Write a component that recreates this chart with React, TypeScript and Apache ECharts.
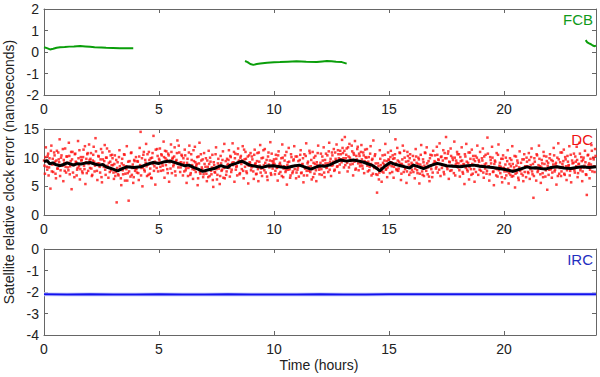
import React, { useEffect, useRef } from "react";
import * as echarts from "echarts";

// ---------- data ----------
const hourTicks = [0, 5, 10, 15, 20];
const xMax = 24;

// FCB (green) segments: [hour, ns]; null breaks the line
const fcbData: (number[] | null)[] = [
  [0, 0.22], [0.13, 0.18], [0.26, 0.12], [0.4, 0.15], [0.55, 0.2], [0.7, 0.22], [0.9, 0.23],
  [1.1, 0.25], [1.3, 0.26], [1.57, 0.28], [1.8, 0.26], [2.0, 0.24], [2.2, 0.22], [2.5, 0.21],
  [2.7, 0.2], [3.0, 0.19], [3.3, 0.18], [3.6, 0.17], [3.88, 0.17],
  null,
  [8.74, -0.42], [8.85, -0.47], [8.97, -0.56], [9.1, -0.6], [9.25, -0.56], [9.4, -0.53],
  [9.7, -0.5], [10.0, -0.48], [10.26, -0.47], [10.6, -0.45], [10.98, -0.43], [11.4, -0.45],
  [11.86, -0.47], [12.1, -0.44], [12.3, -0.42], [12.5, -0.43], [12.7, -0.45], [12.95, -0.47], [13.16, -0.54],
  null,
  [23.55, 0.55], [23.62, 0.45], [23.7, 0.4], [23.78, 0.36], [23.86, 0.3], [23.94, 0.27], [24, 0.3],
];

// DC (red) scatter samples, one every dcStep hours (second set offset by half a step)
const dcStep = 0.04;
const dcValues = [
  9.5,7.2,11.8,8.4,10.3,6.9,9.9,4.6,12.1,8.8,7.5,10.9,9.3,6.4,11.2,8.1,9.7,13.2,7.8,10.4,8.6,5.9,9.1,11.6,7.4,
  10.2,8.3,12.6,7.1,9.4,4.5,11.0,8.7,6.6,10.7,9.2,7.9,12.9,8.5,6.2,10.1,9.6,7.3,11.4,8.0,5.4,9.8,10.6,7.7,12.3,
  8.2,10.8,6.8,9.5,11.9,7.6,13.4,8.9,6.1,10.3,9.0,7.4,11.5,5.7,9.7,8.4,12.2,7.0,10.0,8.6,6.5,11.1,9.3,7.8,10.5,
  8.7,6.3,10.4,7.5,2.2,9.2,6.9,11.3,8.0,5.2,9.8,7.1,10.6,6.0,8.5,12.0,7.3,2.5,9.4,6.7,10.9,8.2,5.6,9.6,7.7,
  10.1,7.4,9.3,6.1,11.7,14.5,8.2,5.0,10.5,7.9,9.6,12.4,6.8,8.8,11.0,7.2,9.9,6.4,10.8,13.8,8.5,5.3,9.1,11.5,7.6,
  9.8,11.6,7.7,10.4,8.6,12.8,6.5,9.9,11.1,8.0,10.7,5.8,9.4,12.3,7.3,10.0,8.8,11.8,6.9,9.6,13.0,8.3,10.9,7.5,9.2,
  10.3,6.9,9.1,11.4,7.8,5.6,9.8,8.2,12.1,7.0,10.6,8.7,6.3,9.4,11.9,7.5,8.9,5.2,10.2,12.6,7.2,9.5,8.0,6.6,10.8,
  7.6,9.9,5.9,8.4,11.2,6.8,9.3,7.1,10.5,4.9,8.7,7.4,11.8,6.2,9.0,8.1,5.4,10.3,7.7,9.6,6.5,12.4,8.3,7.0,9.8,
  8.9,11.3,6.7,10.1,7.9,12.5,9.2,5.8,10.7,8.4,6.9,11.6,9.5,7.3,10.3,8.0,12.0,6.4,9.7,11.0,7.6,8.8,5.5,10.4,9.1,
  7.8,10.2,8.5,6.3,11.4,9.0,7.2,10.8,5.9,9.3,12.2,8.1,6.8,10.0,8.7,11.5,7.4,9.6,6.1,10.9,8.3,12.7,7.0,9.4,8.9,
  9.7,7.1,10.5,8.2,6.0,11.1,8.8,7.5,9.9,12.3,6.6,8.5,10.4,7.8,5.3,9.2,11.7,8.0,6.9,10.1,7.3,9.5,12.0,8.6,6.4,
  10.2,8.3,6.7,9.6,11.3,7.4,8.9,5.7,10.6,8.1,12.5,6.9,9.3,7.7,10.8,8.5,6.2,11.0,9.1,7.2,10.3,5.9,8.7,12.1,7.9,
  8.4,10.7,7.0,9.5,11.8,6.6,9.0,8.2,10.4,7.5,12.6,9.3,6.8,10.9,8.7,11.5,7.9,9.8,12.3,8.5,10.6,7.4,11.2,9.7,13.1,
  10.8,8.3,13.6,9.9,11.6,7.6,10.2,12.4,8.8,9.4,11.1,6.9,10.5,12.9,8.1,9.7,11.9,7.8,10.3,9.0,12.2,8.6,10.9,7.3,11.4,
  9.2,11.5,7.6,10.1,8.4,12.0,6.9,9.8,13.0,8.2,10.6,7.1,3.9,9.0,6.2,11.3,8.7,5.8,10.4,7.4,9.5,12.4,8.0,6.6,10.9,
  9.6,7.3,11.2,8.5,10.4,6.5,9.9,13.2,8.0,11.7,7.7,9.3,10.8,6.1,8.9,12.1,7.5,10.0,8.3,5.6,11.0,9.4,7.0,10.6,8.6,
  7.9,10.3,8.6,6.4,11.5,9.1,7.3,10.0,5.5,8.8,12.2,7.6,9.7,6.8,10.9,8.2,11.8,7.1,9.4,5.9,10.5,8.0,6.6,11.2,9.0,
  10.4,8.1,11.9,7.4,9.6,12.5,6.8,10.2,8.7,11.3,7.1,9.9,13.6,8.4,10.7,6.3,9.2,11.6,7.8,10.0,8.5,12.8,6.9,9.5,11.0,
  8.3,10.6,6.7,9.4,11.8,7.5,8.9,5.4,10.2,12.4,7.9,9.1,6.2,10.9,8.0,11.4,7.2,9.7,5.8,10.3,8.6,12.1,7.0,9.3,11.0,
  7.7,9.9,11.6,6.5,8.8,10.5,7.2,13.5,8.4,6.0,10.1,9.0,11.9,7.5,5.2,9.5,8.1,10.8,6.7,12.3,8.6,7.3,9.8,5.7,10.4,
  8.2,6.4,10.0,7.6,11.3,5.5,8.9,7.0,9.6,12.0,6.8,8.3,4.8,10.2,7.4,9.1,6.1,11.1,8.0,7.2,9.7,5.9,10.6,8.5,6.6,
  9.3,7.5,10.8,6.3,8.7,11.6,7.1,3.0,9.9,8.2,6.0,10.4,7.8,12.1,8.5,5.6,9.6,7.3,11.0,8.9,6.7,10.2,4.4,9.1,7.9,
  10.6,8.0,6.5,9.4,11.7,7.6,8.8,5.3,10.0,12.5,7.2,9.2,6.8,10.9,8.4,11.4,7.0,9.7,6.1,10.3,8.6,12.0,7.7,5.7,9.5,
  8.1,10.7,7.4,9.3,11.9,6.6,8.9,12.6,7.8,10.1,5.9,9.6,8.3,11.2,7.1,3.5,10.4,8.7,6.4,9.8,12.2,7.6,10.0,8.5,11.5,
];
const dcValues2 = [
  8.6,10.1,9.4,7.9,10.7,8.3,9.0,11.2,7.6,9.8,8.9,10.4,7.2,9.5,8.1,10.9,9.2,6.8,10.0,8.7,11.5,9.6,7.7,8.4,10.2,
  9.1,7.8,10.3,8.5,11.0,9.7,7.4,8.8,10.6,9.3,6.9,8.2,9.9,11.3,8.0,9.5,7.6,10.1,8.6,12.0,9.2,7.3,10.8,8.9,9.6,
  9.8,8.1,7.0,10.5,9.3,8.6,11.1,7.7,9.0,10.2,8.4,9.7,6.6,10.9,8.8,9.4,7.9,10.0,11.6,8.3,9.1,7.5,10.4,8.7,9.9,
  7.4,8.9,6.8,9.6,8.2,7.1,10.1,8.5,6.4,9.0,7.8,8.7,10.5,7.2,8.0,6.0,9.3,7.6,8.4,10.8,7.0,8.8,6.6,9.4,8.1,
  8.0,9.4,7.3,10.2,8.7,6.9,9.9,8.3,11.0,7.6,9.1,8.5,10.6,7.0,9.6,8.1,6.5,10.0,8.9,7.7,9.3,11.4,8.2,10.3,9.0,
  9.5,8.4,10.6,9.0,7.8,10.1,11.2,8.7,9.6,7.3,10.4,9.2,8.1,11.0,9.8,8.5,10.2,7.6,9.4,10.8,8.9,12.1,9.1,8.3,10.5,
  8.8,9.9,7.6,10.4,8.2,9.1,6.8,10.9,8.5,7.3,9.6,8.0,11.3,7.9,9.2,8.6,10.1,6.4,9.0,7.5,10.6,8.3,9.7,7.1,8.9,
  8.4,7.2,9.5,6.6,8.9,10.0,7.7,8.3,6.1,9.2,7.5,10.6,8.0,7.0,9.8,8.6,6.8,9.0,7.9,11.1,8.2,6.4,9.4,7.6,8.7,
  9.6,8.2,10.3,7.5,9.1,8.7,11.0,9.9,7.9,8.5,10.6,9.3,7.1,10.0,8.9,9.5,7.7,11.4,8.4,9.8,7.3,10.2,8.6,9.2,10.8,
  8.3,9.7,7.6,10.5,8.9,7.1,9.4,8.0,10.9,8.6,7.4,9.9,8.2,11.3,7.8,9.1,8.5,6.7,10.2,8.8,9.5,7.3,10.7,8.1,9.3,
  8.9,7.7,9.8,8.3,10.4,7.2,9.1,8.6,6.8,10.0,8.1,9.5,7.5,11.0,8.7,7.9,9.3,6.5,10.6,8.4,7.6,9.7,8.0,10.2,7.4,
  7.9,9.4,8.6,10.5,7.3,8.8,9.9,6.9,8.2,10.3,7.7,9.0,8.4,11.2,7.5,9.6,8.0,6.6,10.0,8.9,7.8,9.2,10.8,8.3,7.1,
  9.1,8.0,10.2,8.7,7.4,9.6,10.7,8.3,9.0,11.1,7.9,9.8,8.6,10.4,9.3,7.7,10.9,9.5,8.4,11.3,9.9,8.8,10.6,9.2,11.7,
  9.9,11.2,8.7,10.5,9.1,11.8,8.3,10.0,9.6,12.1,8.9,10.8,9.3,7.9,10.3,11.5,9.0,10.7,8.5,11.0,9.7,8.1,10.4,9.4,10.1,
  10.0,8.6,9.3,7.8,10.7,8.9,9.6,7.2,8.4,10.3,9.0,8.1,7.0,8.5,7.4,9.8,8.2,7.6,9.1,8.8,10.5,7.9,9.4,8.3,9.7,
  8.7,10.1,9.2,7.5,9.8,8.4,10.6,9.0,7.8,9.5,8.1,10.9,8.9,7.2,9.7,8.6,11.2,8.0,9.3,7.6,10.3,8.8,9.9,7.4,9.1,
  8.8,7.5,9.6,8.1,10.2,7.8,8.9,9.7,7.2,10.5,8.4,7.0,9.2,8.6,10.8,7.7,9.0,8.3,6.7,9.9,8.5,10.4,7.4,8.9,9.4,
  9.2,8.4,10.5,9.7,7.9,8.9,10.1,8.2,9.5,7.5,10.8,8.7,9.9,8.0,11.1,9.3,7.7,10.3,8.6,9.6,7.3,10.0,8.8,9.1,10.6,
  9.0,7.8,10.1,8.6,9.5,7.2,8.8,10.6,8.2,9.3,7.6,10.9,8.4,9.8,7.0,8.9,10.3,8.0,9.4,7.5,10.0,8.7,9.6,7.9,8.5,
  8.6,9.5,7.4,10.2,8.1,9.0,7.7,10.7,8.5,7.1,9.6,8.3,10.0,7.6,8.9,9.3,6.9,8.0,10.5,7.8,9.1,8.4,6.6,9.8,8.2,
  7.6,8.8,6.9,9.4,8.1,7.3,9.9,8.5,6.7,8.9,7.8,10.3,7.2,8.6,9.5,6.5,8.3,7.7,9.1,8.0,6.9,9.7,7.5,8.4,10.0,
  8.5,7.3,9.6,8.0,10.1,7.6,8.9,6.8,9.3,8.2,10.6,7.5,8.7,9.8,7.1,8.4,9.0,6.6,10.3,8.1,7.8,9.4,8.6,7.0,9.9,
  8.0,9.6,7.4,8.8,10.4,7.9,9.1,8.4,6.8,9.7,8.2,10.9,7.6,8.9,9.4,7.2,10.1,8.5,7.8,9.3,8.7,6.9,10.5,8.1,9.0,
  9.1,7.8,10.2,8.5,9.6,7.3,8.9,10.7,8.2,9.4,7.6,10.0,8.6,9.2,7.0,8.3,10.5,9.0,7.9,8.8,11.2,8.4,9.7,7.5,10.3,
];

// DC smoothed (black) [hour, ns]
const dcMean = [
  [0, 9.3], [0.13, 9.5], [0.26, 8.9], [0.38, 9.1], [0.5, 8.8], [0.7, 8.6], [0.85, 8.8], [1.0, 9.1],
  [1.15, 8.9], [1.28, 8.7], [1.45, 8.95], [1.6, 8.9], [1.8, 9.05], [2.0, 9.15], [2.2, 8.9], [2.4, 8.7],
  [2.55, 8.8], [2.7, 8.4], [2.85, 8.2], [3.0, 8.0], [3.2, 7.7], [3.4, 8.1], [3.6, 8.4], [3.9, 8.3],
  [4.2, 8.4], [4.45, 8.8], [4.75, 9.15], [5.0, 9.0], [5.25, 9.3], [5.5, 9.4], [5.8, 9.0], [6.1, 8.6],
  [6.3, 8.7], [6.5, 8.3], [6.7, 8.0], [6.9, 7.6], [7.15, 7.9], [7.4, 8.1], [7.55, 8.4], [7.7, 8.6],
  [7.85, 8.4], [8.0, 8.3], [8.1, 8.7], [8.35, 9.0], [8.6, 9.4], [8.8, 9.0], [8.95, 8.7], [9.2, 8.5],
  [9.5, 8.3], [9.7, 8.55], [9.97, 8.6], [10.25, 8.4], [10.55, 8.25], [10.8, 8.5], [11.1, 8.7], [11.35, 8.35],
  [11.6, 8.0], [11.8, 8.3], [12.0, 8.6], [12.2, 8.5], [12.4, 8.7], [12.65, 9.2], [12.9, 9.6], [13.15, 9.4],
  [13.45, 9.6], [13.7, 9.4], [13.9, 9.2], [14.1, 8.9], [14.3, 8.6], [14.45, 8.2], [14.6, 7.7], [14.85, 8.6],
  [15.05, 9.15], [15.3, 8.8], [15.5, 8.6], [15.7, 8.4], [15.9, 8.2], [16.06, 8.7], [16.3, 8.4], [16.5, 8.1],
  [16.8, 8.6], [17.1, 9.0], [17.3, 8.8], [17.5, 8.6], [17.8, 8.5], [18.1, 8.4], [18.4, 8.6], [18.7, 8.7],
  [18.95, 8.5], [19.2, 8.4], [19.5, 8.3], [19.8, 8.1], [20.1, 7.9], [20.4, 7.6], [20.7, 8.0], [21.0, 8.4],
  [21.2, 8.2], [21.4, 8.25], [21.6, 8.1], [21.8, 8.0], [22.05, 8.3], [22.3, 8.4], [22.6, 8.2], [22.9, 8.1],
  [23.15, 8.3], [23.4, 8.4], [23.7, 8.3], [24, 8.4],
];

// IRC (blue), one value per hour
const ircValues = [
  -2.11, -2.12, -2.11, -2.12, -2.12, -2.11, -2.12, -2.12, -2.11, -2.12, -2.12, -2.12, -2.11,
  -2.12, -2.12, -2.11, -2.11, -2.11, -2.11, -2.10, -2.11, -2.10, -2.11, -2.11, -2.11,
];

const panelLabels = ["FCB", "DC", "IRC"];
const panelColors = ["#109a1a", "#ee1111", "#1f2fc0"];
const yRanges = [
  { min: -2, max: 2, interval: 1 },
  { min: 0, max: 15, interval: 5 },
  { min: -4, max: 0, interval: 1 },
];

export default function App() {
  const ref = useRef<HTMLDivElement>(null);
  useEffect(() => {
    document.body.style.margin = "0";
    const chart = echarts.init(ref.current!, null, { renderer: "svg" });
    const font = "Liberation Sans, Arial, Helvetica, sans-serif";
    const tops = [9, 129, 249];
    const grids = tops.map((t) => ({ left: 44, right: 4, top: t, height: 86 }));
    const axisLine = { show: true, onZero: false, lineStyle: { color: "#666", width: 1 } };
    const tick = { show: true, inside: true, length: 4, lineStyle: { color: "#666" } };
    const xAxes: any[] = [];
    const yAxes: any[] = [];
    grids.forEach((_, i) => {
      xAxes.push({
        type: "value", gridIndex: i, min: 0, max: xMax, interval: 5, position: "bottom",
        axisLine, axisTick: tick, splitLine: { show: false },
        axisLabel: { color: "#222", fontSize: 14, fontFamily: font, margin: 7, showMaxLabel: false,
          formatter: (v: number) => (hourTicks.includes(v) ? String(v) : "") },
      });
      xAxes.push({
        type: "value", gridIndex: i, min: 0, max: xMax, interval: 5, position: "top",
        axisLine, axisTick: tick, splitLine: { show: false }, axisLabel: { show: false },
      });
      yAxes.push({
        type: "value", gridIndex: i, ...yRanges[i], position: "left",
        axisLine, axisTick: tick, splitLine: { show: false },
        axisLabel: { color: "#222", fontSize: 14, fontFamily: font, margin: 5 },
      });
      yAxes.push({
        type: "value", gridIndex: i, ...yRanges[i], position: "right",
        axisLine, axisTick: tick, splitLine: { show: false }, axisLabel: { show: false },
      });
    });
    const dcPoints = dcValues.map((v, i) => [+(i * dcStep).toFixed(2), v]);
    const dcPoints2 = dcValues2.map((v, i) => [+(i * dcStep + dcStep / 2).toFixed(2), v]);
    const ircPoints = ircValues.map((v, i) => [i, v]);
    chart.setOption({
      animation: false,
      grid: grids,
      xAxis: xAxes,
      yAxis: yAxes,
      series: [
        {
          type: "line", xAxisIndex: 0, yAxisIndex: 0, data: fcbData.map((d) => (d ? d : [null, null])),
          showSymbol: false, connectNulls: false, lineStyle: { color: "#0a9e0a", width: 2 },
        },
        {
          type: "scatter", xAxisIndex: 2, yAxisIndex: 2, data: dcPoints, symbol: "rect",
          symbolSize: 2.5, itemStyle: { color: "#ff1010" },
        },
        {
          type: "scatter", xAxisIndex: 2, yAxisIndex: 2, data: dcPoints2, symbol: "rect",
          symbolSize: 2.5, itemStyle: { color: "#ff1010" },
        },
        {
          type: "line", xAxisIndex: 2, yAxisIndex: 2, data: dcMean, showSymbol: false,
          lineStyle: { color: "#000", width: 3 },
        },
        {
          type: "line", xAxisIndex: 4, yAxisIndex: 4, data: ircPoints, showSymbol: false,
          lineStyle: { color: "#d2d6fb", width: 4 },
        },
        {
          type: "line", xAxisIndex: 4, yAxisIndex: 4, data: ircPoints, showSymbol: false,
          lineStyle: { color: "#1212ee", width: 2 },
        },
      ],
      graphic: [
        ...panelLabels.map((t, i) => ({
          type: "text", right: 7, top: tops[i] + 3,
          style: { text: t, fill: panelColors[i], fontSize: 15, fontFamily: font },
        })),
        {
          type: "text", x: 9, y: 172, rotation: Math.PI / 2,
          style: { text: "Satellite relative clock error (nanoseconds)", fill: "#222", fontSize: 14,
            fontFamily: font, align: "center", verticalAlign: "middle" },
        },
        {
          type: "text", x: 319, y: 365,
          style: { text: "Time (hours)", fill: "#222", fontSize: 14, fontFamily: font,
            align: "center", verticalAlign: "middle" },
        },
      ],
    });
    return () => chart.dispose();
  }, []);
  return <div ref={ref} style={{ width: 600, height: 377 }} />;
}
